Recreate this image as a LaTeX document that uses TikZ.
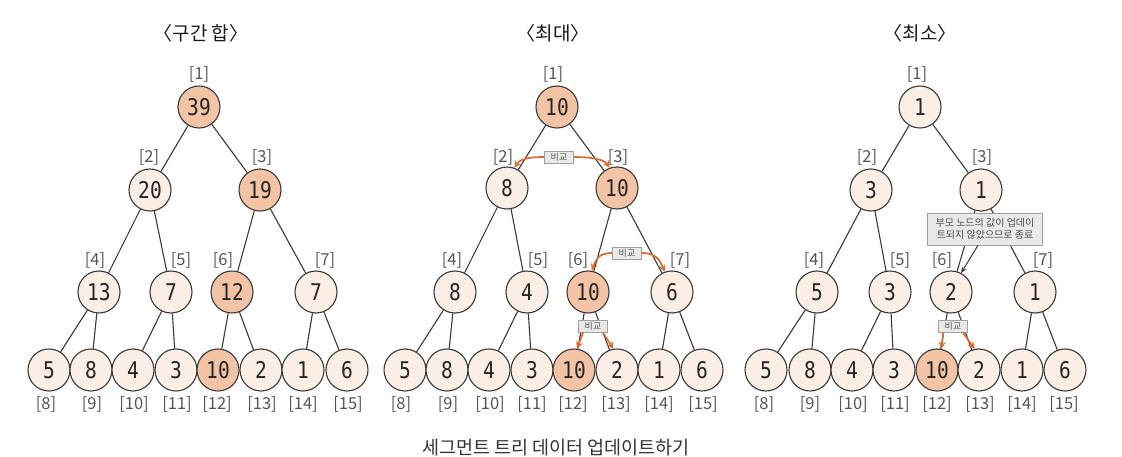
\documentclass[tikz,border=0pt]{standalone}
\usepackage{fontspec}
\usetikzlibrary{arrows.meta}
\newfontfamily\kr{Noto Sans CJK KR}
\newfontfamily\numfont[FakeStretch=0.85]{DejaVu Sans Mono}
\definecolor{linec}{HTML}{3A3A3A}
\definecolor{lightf}{HTML}{FBEEE5}
\definecolor{orangef}{HTML}{F2C3A5}
\definecolor{idxc}{HTML}{555555}
\definecolor{arrowc}{HTML}{E2692C}
\definecolor{boxf}{HTML}{E9E9E9}
\definecolor{boxd}{HTML}{A0A0A0}
\tikzset{
 nd/.style={circle, draw=linec, line width=1.1pt, fill=lightf, minimum size=42pt, inner sep=0pt,
   font=\numfont\fontsize{23}{23}\selectfont, text=black!85},
 hi/.style={nd, fill=orangef},
 idx/.style={font=\kr\fontsize{16.5}{16.5}\selectfont, text=idxc, inner sep=0pt},
 ttl/.style={font=\kr\fontsize{19}{19}\selectfont, text=black!90, inner sep=0pt},
 captxt/.style={font=\kr\fontsize{18.5}{18.5}\selectfont, text=black!80, inner sep=0pt},
 edge/.style={draw=linec, line width=1.1pt},
 cmp/.style={draw=boxd, fill=boxf, line width=0.6pt, font=\kr\fontsize{9}{9}\selectfont, text=black!65,
   inner sep=0pt, minimum width=29pt, minimum height=12pt},
 note/.style={draw=boxd, fill=boxf, line width=0.6pt, font=\kr\fontsize{10}{12.5}\selectfont, text=black!70,
   inner sep=2pt, align=center, minimum width=115pt, minimum height=32pt},
 carrow/.style={draw=arrowc, line width=1.7pt, -{Stealth[length=7pt,width=7pt]}},
 narrow/.style={draw=linec, line width=1pt, -{Stealth[length=6pt,width=5pt]}},
}
\begin{document}
\begin{tikzpicture}[x=1pt,y=-1pt]
\useasboundingbox (0,0) rectangle (1122,457);

% titles
\node[ttl] (t1) at (201,33) {〈구간 합〉};
\node[ttl] (t2) at (553,33) {〈최대〉};
\node[ttl] (t3) at (920,33) {〈최소〉};

% ---------- panel 1 ----------
\node[hi] (a1) at (199,107) {39};
\node[nd] (a2) at (150,190) {20};
\node[hi] (a3) at (260,190) {19};
\node[nd] (a4) at (99,292) {13};
\node[nd] (a5) at (171,292) {7};
\node[hi] (a6) at (232,292) {12};
\node[nd] (a7) at (316,292) {7};
\foreach \i/\x/\v/\s in {8/49/5/nd,9/91/8/nd,10/133/4/nd,11/176/3/nd,12/218/10/hi,13/261/2/nd,14/303/1/nd,15/347/6/nd}
  \node[\s] (a\i) at (\x,370) {\v};
\foreach \p/\c in {1/2,1/3,2/4,2/5,3/6,3/7,4/8,4/9,5/10,5/11,6/12,6/13,7/14,7/15}
  \draw[edge] (a\p) -- (a\c);
\foreach \i/\x/\y in {1/199/74,2/149/157,3/262/157,4/95/260,5/181/260,6/223/260,7/325/260,
  8/46/404,9/92/404,10/134/404,11/177/404,12/217/404,13/262/404,14/303/404,15/348/404}
  \node[idx] (ai\i) at (\x,\y) {[\i]};

% ---------- panel 2 ----------
\node[hi] (b1) at (557,107) {10};
\node[nd] (b2) at (507,188) {8};
\node[hi] (b3) at (617,188) {10};
\node[nd] (b4) at (455,292) {8};
\node[nd] (b5) at (527,292) {4};
\node[hi] (b6) at (588,292) {10};
\node[nd] (b7) at (672,292) {6};
\foreach \i/\x/\v/\s in {8/405/5/nd,9/447/8/nd,10/489/4/nd,11/532/3/nd,12/574/10/hi,13/617/2/nd,14/659/1/nd,15/702/6/nd}
  \node[\s] (b\i) at (\x,370) {\v};
\foreach \p/\c in {1/2,1/3,2/4,2/5,3/6,3/7,4/8,4/9,5/10,5/11,6/12,6/13,7/14,7/15}
  \draw[edge] (b\p) -- (b\c);
\foreach \i/\x/\y in {1/553/74,2/503/157,3/618/157,4/452/260,5/538/260,6/578/260,7/680/260,
  8/401/404,9/448/404,10/490/404,11/532/404,12/573/404,13/616/404,14/659/404,15/703/404}
  \node[idx] (bi\i) at (\x,\y) {[\i]};

\node[cmp] (bc1) at (559,157) {비교};
\draw[carrow] (bc1.west) .. controls +(-15,0) and +(6,-9) .. (b2.70);
\draw[carrow] (bc1.east) .. controls +(15,0) and +(-6,-9) .. (b3.110);
\node[cmp] (bc2) at (627,253) {비교};
\draw[carrow] (bc2.west) .. controls +(-15,0) and +(4,-10) .. (b6.80);
\draw[carrow] (bc2.east) .. controls +(15,0) and +(-4,-10) .. (b7.110);
\node[cmp] (bc3) at (593,326) {비교};
\draw[carrow] ([xshift=5pt]bc3.south west) -- (b12.82);
\draw[carrow] ([xshift=-5pt]bc3.south east) -- (b13.100);

% ---------- panel 3 ----------
\node[nd] (c1) at (920,107) {1};
\node[nd] (c2) at (871,190) {3};
\node[nd] (c3) at (981,190) {1};
\node[nd] (c4) at (817,292) {5};
\node[nd] (c5) at (890,292) {3};
\node[nd] (c6) at (951,292) {2};
\node[nd] (c7) at (1035,292) {1};
\foreach \i/\x/\v/\s in {8/766/5/nd,9/810/8/nd,10/852/4/nd,11/894/3/nd,12/937/10/hi,13/979/2/nd,14/1022/1/nd,15/1065/6/nd}
  \node[\s] (c\i) at (\x,370) {\v};
\foreach \p/\c in {1/2,1/3,2/4,2/5,3/6,3/7,4/8,4/9,5/10,5/11,6/12,6/13,7/14,7/15}
  \draw[edge] (c\p) -- (c\c);
\foreach \i/\x/\y in {1/917/74,2/867/157,3/982/157,4/814/260,5/900/260,6/942/260,7/1043/260,
  8/764/404,9/810/404,10/853/404,11/895/404,12/937/404,13/980/404,14/1022/404,15/1064/404}
  \node[idx] (ci\i) at (\x,\y) {[\i]};

\node[note] (cn) at (985,229) {부모 노드의 값이 업데이\\트되지 않았으므로 종료};
\draw[narrow] ([xshift=-7pt]cn.south) -- (c6.62);
\node[cmp] (cc) at (953,326) {비교};
\draw[carrow] ([xshift=5pt]cc.south west) -- (c12.78);
\draw[carrow] ([xshift=-5pt]cc.south east) -- (c13.102);

% caption
\node[captxt] (capt) at (556,448) {세그먼트 트리 데이터 업데이트하기};
\end{tikzpicture}
\end{document}
